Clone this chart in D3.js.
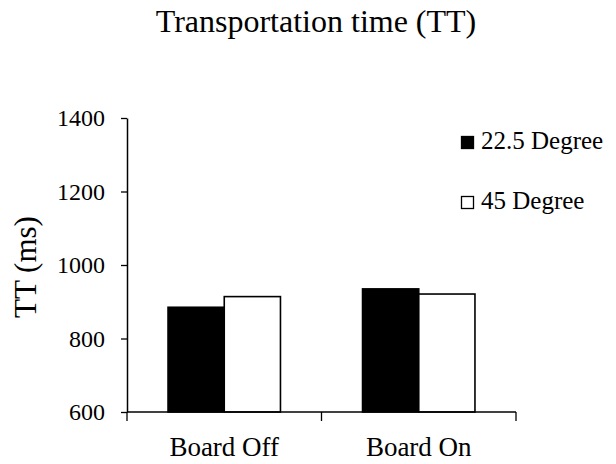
<!DOCTYPE html>
<html>
<head>
<meta charset="utf-8">
<script src="https://cdn.jsdelivr.net/npm/d3@7"></script>
<style>
  body { margin: 0; background: #fff; }
  text { font-family: "Liberation Serif", "Times New Roman", serif; fill: #000; }
</style>
</head>
<body>
<svg width="616" height="464"></svg>
<script>
// values
const categories = ['Board Off', 'Board On'];
const seriesNames = ['22.5 Degree', '45 Degree'];
const deg22 = [885, 935];
const deg45 = [914, 921];
const yTicks = [600, 800, 1000, 1200, 1400];

const svg = d3.select('svg');
const width = +svg.attr('width');
const height = +svg.attr('height');

const margin = { top: 118, right: 100, bottom: 52, left: 127 };
const innerWidth = width - margin.left - margin.right;
const innerHeight = height - margin.top - margin.bottom;

const data = categories.map((c, i) => ({
  category: c,
  values: [
    { series: seriesNames[0], value: deg22[i] },
    { series: seriesNames[1], value: deg45[i] }
  ]
}));
const fills = { '22.5 Degree': '#000', '45 Degree': '#fff' };

const xScale = d3.scaleBand()
  .domain(categories)
  .range([0, innerWidth])
  .padding(0);

const xSub = d3.scaleBand()
  .domain(seriesNames)
  .range([0, xScale.bandwidth()])
  .paddingInner(0)
  .paddingOuter(0.73);

const yScale = d3.scaleLinear()
  .domain([600, 1400])
  .range([innerHeight, 0]);

const g = svg.append('g')
  .attr('transform', `translate(${margin.left}, ${margin.top})`);

// bars
const groups = g.selectAll('.grp').data(data)
  .enter().append('g')
  .attr('class', 'grp')
  .attr('transform', d => `translate(${xScale(d.category)}, 0)`);

groups.selectAll('rect').data(d => d.values)
  .enter().append('rect')
  .attr('x', d => xSub(d.series))
  .attr('y', d => yScale(d.value))
  .attr('width', xSub.bandwidth())
  .attr('height', d => innerHeight - yScale(d.value))
  .attr('fill', d => fills[d.series])
  .attr('stroke', '#000')
  .attr('stroke-width', 1.6);

// y axis
const yAxisG = g.append('g')
  .call(d3.axisLeft(yScale).tickValues(yTicks).tickSize(6).tickSizeOuter(0)
    .tickPadding(16).tickFormat(d3.format('d')));
yAxisG.select('.domain').attr('stroke-width', 1.5);
yAxisG.selectAll('.tick line').attr('stroke-width', 1.3);
yAxisG.selectAll('.tick text').attr('font-size', 24);

// x axis: ticks at band edges, labels at band centers
const xAxisG = g.append('g')
  .attr('transform', `translate(0, ${innerHeight})`);
xAxisG.append('line')
  .attr('x1', 0).attr('x2', innerWidth)
  .attr('stroke', '#000').attr('stroke-width', 1.5);
const edges = categories.map(c => xScale(c)).concat([xScale.range()[1]]);
xAxisG.selectAll('.edge').data(edges)
  .enter().append('line')
  .attr('class', 'edge')
  .attr('x1', d => d).attr('x2', d => d)
  .attr('y1', 0).attr('y2', 9)
  .attr('stroke', '#000').attr('stroke-width', 1.3);
xAxisG.selectAll('.cat').data(categories)
  .enter().append('text')
  .attr('class', 'cat')
  .attr('x', d => xScale(d) + xScale.bandwidth() / 2)
  .attr('y', 44)
  .attr('text-anchor', 'middle')
  .attr('font-size', 27)
  .text(d => d);

// axis title
svg.append('text')
  .attr('transform', `translate(36, 267) rotate(-90)`)
  .attr('text-anchor', 'middle')
  .attr('font-size', 31)
  .text('TT (ms)');

// chart title
svg.append('text')
  .attr('x', 316)
  .attr('y', 32)
  .attr('text-anchor', 'middle')
  .attr('font-size', 32)
  .text('Transportation time (TT)');

// legend
const legend = svg.append('g')
  .attr('transform', 'translate(461, 136)');
const items = legend.selectAll('.item').data(seriesNames)
  .enter().append('g')
  .attr('class', 'item')
  .attr('transform', (d, i) => `translate(0, ${i * 60})`);
items.append('rect')
  .attr('x', 0.5).attr('y', 0.5)
  .attr('width', 12).attr('height', 12)
  .attr('fill', d => fills[d])
  .attr('stroke', '#000')
  .attr('stroke-width', 1.3);
items.append('text')
  .attr('x', 20)
  .attr('y', 13)
  .attr('font-size', 25)
  .text(d => d);
</script>
</body>
</html>
